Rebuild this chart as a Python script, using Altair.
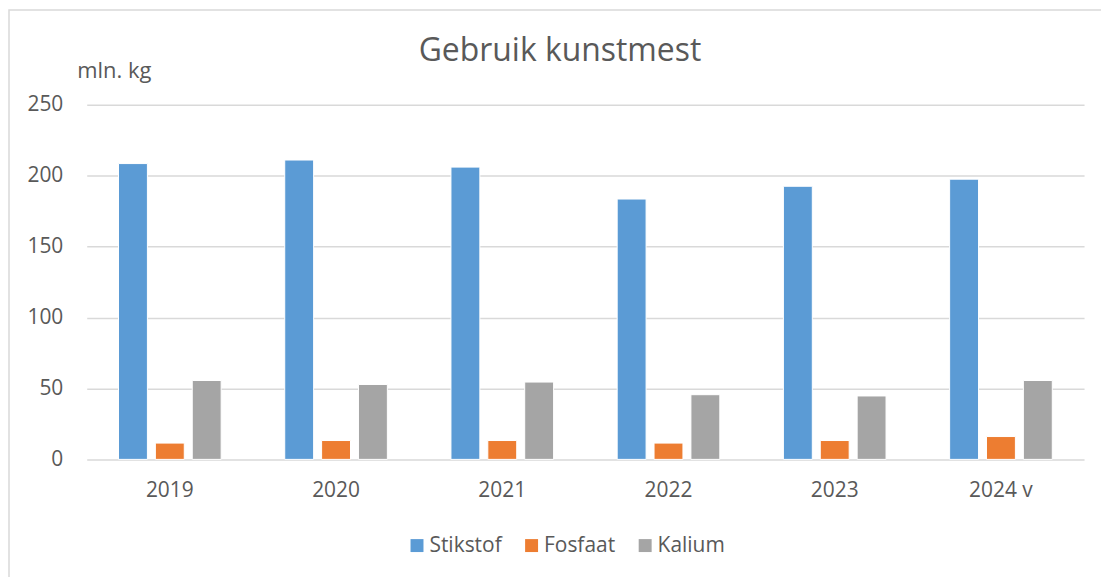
import altair as alt
import pandas as pd

years = ["2019", "2020", "2021", "2022", "2023", "2024 v"]
series = ["Stikstof", "Fosfaat", "Kalium"]
stikstof = [208.5, 211.0, 206.0, 183.5, 192.5, 197.5]
fosfaat = [11.5, 13.3, 13.3, 11.5, 13.3, 16.1]
kalium = [55.6, 52.8, 54.5, 45.6, 44.7, 55.6]
colors = ["#5B9BD5", "#ED7D31", "#A5A5A5"]
y_ticks = [0, 50, 100, 150, 200, 250]

rows = []
for name, vals in zip(series, [stikstof, fosfaat, kalium]):
    for yr, v in zip(years, vals):
        rows.append({"jaar": yr, "soort": name, "waarde": v})
df = pd.DataFrame(rows)

FONT = "Open Sans"
TXT = "#595959"
W, H = 1001, 356

bars = alt.Chart(df).mark_bar(stroke="white", strokeWidth=1).encode(
    x=alt.X("jaar:N", sort=years,
            scale=alt.Scale(paddingInner=0.3825, paddingOuter=0.19125),
            axis=alt.Axis(title=None, labelAngle=0, ticks=False, domain=False,
                          labelFontSize=21, labelColor=TXT, labelFont=FONT,
                          labelPadding=20)),
    xOffset=alt.XOffset("soort:N", sort=series,
                        scale=alt.Scale(paddingInner=0.216, paddingOuter=0)),
    y=alt.Y("waarde:Q", scale=alt.Scale(domain=[0, 250], nice=False),
            axis=alt.Axis(values=y_ticks, title="mln. kg", titleAngle=0,
                          titleX=-10, titleY=-27, titleAlign="left",
                          titleBaseline="alphabetic", titleFontSize=22,
                          titleFontWeight="normal", titleColor=TXT, titleFont=FONT,
                          ticks=False, domain=False, labelFontSize=21,
                          labelColor=TXT, labelFont=FONT, labelPadding=24,
                          gridColor="#d9d9d9", gridWidth=1.5)),
    color=alt.Color("soort:N", sort=series,
                    scale=alt.Scale(domain=series, range=colors),
                    legend=alt.Legend(title=None, orient="none", direction="horizontal",
                                      legendX=321, legendY=432, gridAlign="none",
                                      symbolType="square", symbolSize=169,
                                      symbolStrokeWidth=0, labelFontSize=21,
                                      labelColor=TXT, labelFont=FONT,
                                      labelOffset=2, columnPadding=19)),
)

title = alt.Chart(alt.Data(values=[{"t": "Gebruik kunstmest"}])).mark_text(
    font=FONT, fontSize=32, color=TXT, align="center", baseline="alphabetic"
).encode(text="t:N", x=alt.value(475), y=alt.value(-44))

border = alt.Chart(alt.Data(values=[{"a": 1}])).mark_rect(
    fill="transparent", stroke="#d9d9d9", strokeWidth=1.5
).encode(x=alt.value(-78), x2=alt.value(1200), y=alt.value(-95), y2=alt.value(700))

chart = alt.layer(border, bars, title).properties(
    width=W, height=H,
    autosize=alt.AutoSizeParams(type="none"),
    padding={"left": 79, "top": 96, "right": 17, "bottom": 117},
).configure_view(stroke=None)

chart.save("out.html", embed_options={"renderer": "svg", "actions": False})
